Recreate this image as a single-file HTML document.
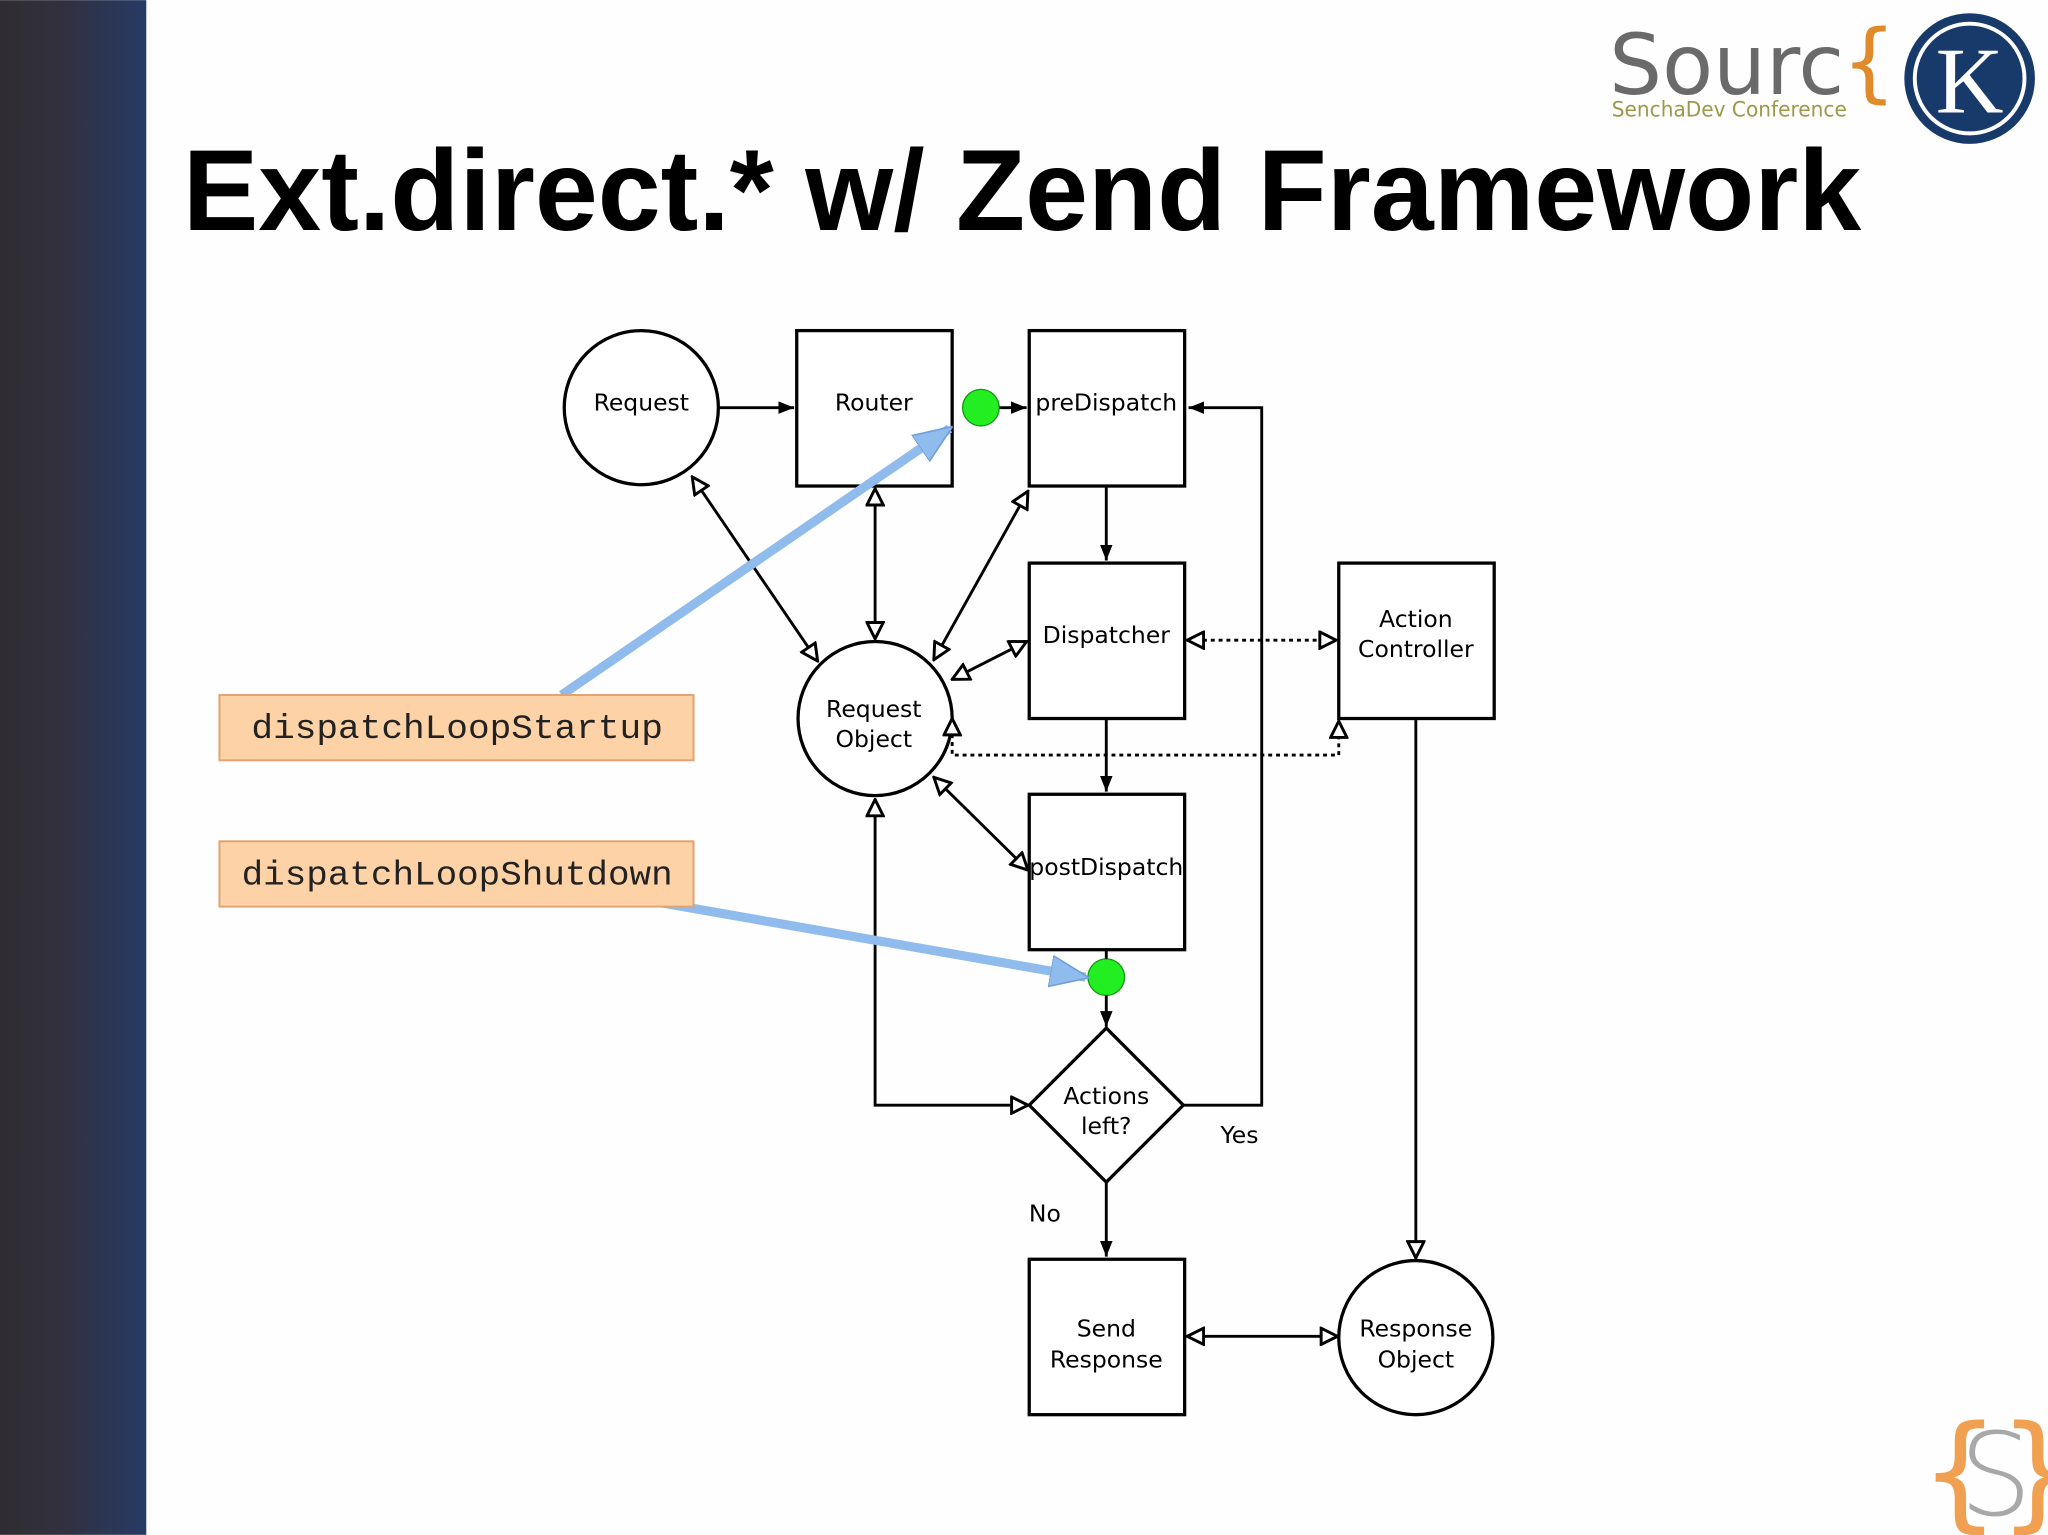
<!DOCTYPE html>
<html><head><meta charset="utf-8"><style>
html,body{margin:0;padding:0;background:#fdfefd;}
svg{display:block;}
</style></head><body>
<svg width="2048" height="1535" viewBox="0 0 1568 1175" xmlns="http://www.w3.org/2000/svg">
<defs>
<linearGradient id="bar" x1="0" x2="1" y1="0" y2="0">
<stop offset="0" stop-color="#2f2d32"/><stop offset="0.4" stop-color="#32303d"/><stop offset="1" stop-color="#273a66"/>
</linearGradient>
<marker id="fa" viewBox="0 0 10 10" refX="10" refY="5" markerWidth="12" markerHeight="12" markerUnits="userSpaceOnUse" orient="auto-start-reverse">
<path d="M0,1 L10,5 L0,9 z" fill="#000"/></marker>
<marker id="oa" viewBox="0 0 12 12" refX="11" refY="6" markerWidth="15" markerHeight="15" markerUnits="userSpaceOnUse" orient="auto-start-reverse">
<path d="M1,1 L11,6 L1,11 z" fill="#fff" stroke="#000" stroke-width="1.8"/></marker>
<marker id="ba" viewBox="0 0 10 10" refX="9" refY="5" markerWidth="30" markerHeight="30" markerUnits="userSpaceOnUse" orient="auto">
<path d="M0,1 L10,5 L0,9 z" fill="#8fbcec" stroke="#6e9fd8" stroke-width="0.4"/></marker>
</defs>
<rect width="1568" height="1175" fill="#fdfefd"/>
<rect width="112" height="1175" fill="url(#bar)"/>

<text x="140" y="176" font-family="Liberation Sans, sans-serif" font-weight="bold" font-size="88" textLength="1285" lengthAdjust="spacingAndGlyphs">Ext.direct.* w/ Zend Framework</text>

<!-- logo -->
<text x="1232" y="72" font-family="DejaVu Sans, sans-serif" font-size="64" fill="#6a6a6a" textLength="180" lengthAdjust="spacingAndGlyphs">Sourc</text>
<text x="1410" y="70" font-family="DejaVu Sans, sans-serif" font-size="66" fill="#e08a2a">{</text>
<text x="1234" y="89" font-family="DejaVu Sans, sans-serif" font-size="16" fill="#9a9a4a" textLength="180" lengthAdjust="spacingAndGlyphs">SenchaDev Conference</text>
<circle cx="1508" cy="60" r="50" fill="#173a6a"/>
<circle cx="1508" cy="60" r="42" fill="none" stroke="#fff" stroke-width="3"/>
<text x="1508" y="86" text-anchor="middle" font-family="Liberation Serif, serif" font-size="72" fill="#fff">K</text>
<text x="1470" y="1160" font-family="DejaVu Sans, sans-serif" font-size="96" fill="#f0a050">{</text>
<text x="1500" y="1160" font-family="DejaVu Sans, sans-serif" font-size="88" fill="#a8a8a8" font-weight="200">S</text>
<text x="1530" y="1160" font-family="DejaVu Sans, sans-serif" font-size="96" fill="#f0a050">}</text>

<g fill="#fff" stroke="#000" stroke-width="2.5">
<circle cx="491" cy="312" r="59"/>
<rect x="610" y="253" width="119" height="119"/>
<rect x="788" y="253" width="119" height="119"/>
<rect x="788" y="431" width="119" height="119"/>
<rect x="1025" y="431" width="119" height="119"/>
<circle cx="670" cy="550" r="59"/>
<rect x="788" y="608" width="119" height="119"/>
<path d="M847,787 L906,846 L847,905 L788,846 z"/>
<rect x="788" y="964" width="119" height="119"/>
<circle cx="1084" cy="1024" r="59"/>
</g>
<g fill="#22ee22" stroke="#119911" stroke-width="1">
<circle cx="751" cy="312" r="14"/>
<circle cx="847" cy="748" r="14"/>
</g>

<g stroke="#000" stroke-width="2.2" fill="none">
<line x1="551" y1="312" x2="608" y2="312" marker-end="url(#fa)"/>
<line x1="765" y1="312" x2="786" y2="312" marker-end="url(#fa)"/>
<polyline points="906,846 966,846 966,312 910,312" marker-end="url(#fa)"/>
<line x1="847" y1="372" x2="847" y2="429" marker-end="url(#fa)"/>
<line x1="847" y1="550" x2="847" y2="606" marker-end="url(#fa)"/>
<line x1="847" y1="727" x2="847" y2="734"/>
<line x1="847" y1="762" x2="847" y2="786" marker-end="url(#fa)"/>
<line x1="847" y1="905" x2="847" y2="962" marker-end="url(#fa)"/>
<polyline points="670,612 670,846 787,846" marker-start="url(#oa)" marker-end="url(#oa)"/>
<line x1="670" y1="374" x2="670" y2="489" marker-start="url(#oa)" marker-end="url(#oa)"/>
<line x1="530" y1="365" x2="626" y2="506" marker-start="url(#oa)" marker-end="url(#oa)"/>
<line x1="787" y1="376" x2="715" y2="505" marker-start="url(#oa)" marker-end="url(#oa)"/>
<line x1="786" y1="491" x2="729" y2="520" marker-start="url(#oa)" marker-end="url(#oa)"/>
<line x1="715" y1="595" x2="787" y2="666" marker-start="url(#oa)" marker-end="url(#oa)"/>
<line x1="1084" y1="550" x2="1084" y2="963" marker-end="url(#oa)"/>
<line x1="909" y1="1023" x2="1024" y2="1023" marker-start="url(#oa)" marker-end="url(#oa)"/>
<line x1="909" y1="490" x2="1023" y2="490" stroke-dasharray="3,3" marker-start="url(#oa)" marker-end="url(#oa)"/>
<polyline points="729,550 729,578 1025,578 1025,552" stroke-dasharray="3,3" marker-start="url(#oa)" marker-end="url(#oa)"/>
</g>

<g font-family="DejaVu Sans, sans-serif" font-size="18" text-anchor="middle" fill="#000">
<text x="491" y="314">Request</text>
<text x="669" y="314">Router</text>
<text x="847" y="314">preDispatch</text>
<text x="847" y="492">Dispatcher</text>
<text x="1084" y="480">Action</text>
<text x="1084" y="503">Controller</text>
<text x="669" y="549">Request</text>
<text x="669" y="572">Object</text>
<text x="847" y="670">postDispatch</text>
<text x="847" y="845">Actions</text>
<text x="847" y="868">left?</text>
<text x="847" y="1023">Send</text>
<text x="847" y="1047">Response</text>
<text x="1084" y="1023">Response</text>
<text x="1084" y="1047">Object</text>
<text x="949" y="875">Yes</text>
<text x="800" y="935">No</text>
</g>

<g stroke="#7aaae6" stroke-width="1">
<line x1="430" y1="532" x2="727" y2="328" stroke="#8fbcec" stroke-width="7" marker-end="url(#ba)"/>
<line x1="500" y1="690" x2="831" y2="748" stroke="#8fbcec" stroke-width="7" marker-end="url(#ba)"/>
</g>
<rect x="168" y="532" width="363" height="50" fill="#fdd2a6" stroke="#e0a470" stroke-width="1.5"/>
<rect x="168" y="644" width="363" height="50" fill="#fdd2a6" stroke="#e0a470" stroke-width="1.5"/>
<g font-family="Liberation Mono, monospace" font-size="26" text-anchor="middle" fill="#222">
<text x="350" y="565" textLength="315" lengthAdjust="spacingAndGlyphs">dispatchLoopStartup</text>
<text x="350" y="677" textLength="330" lengthAdjust="spacingAndGlyphs">dispatchLoopShutdown</text>
</g>
</svg>
</body></html>
